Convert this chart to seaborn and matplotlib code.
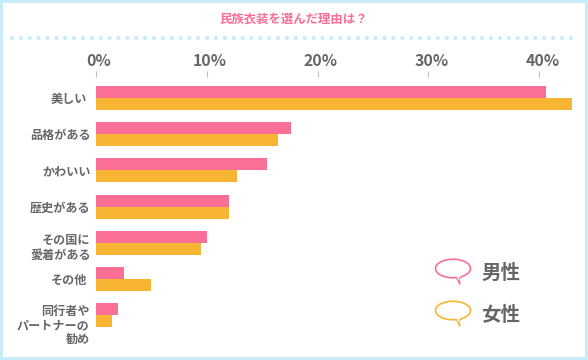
import matplotlib
matplotlib.use("Agg")
import matplotlib.pyplot as plt
from matplotlib.patches import Ellipse, Polygon, Rectangle
from matplotlib.transforms import ScaledTranslation
import pandas as pd
import seaborn as sns

categories = ["美しい", "品格がある", "かわいい", "歴史がある", "その国に\n愛着がある", "その他", "同行者や\nパートナーの\n勧め"]
male = [40.6, 17.6, 15.4, 12.0, 10.0, 2.5, 2.0]
female = [43.0, 16.4, 12.7, 12.0, 9.5, 5.0, 1.4]
series_names = ["男性", "女性"]
tick_values = [0, 10, 20, 30, 40]
tick_labels = ["0%", "10%", "20%", "30%", "40%"]
title = "民族衣装を選んだ理由は？"

PINK = "#F96F96"
ORANGE = "#F8B433"
BLUE = "#C8ECFA"
TEXT = "#666666"
W, H = 588, 360
DPI = 100

sns.set_theme(style="white")
plt.rcParams["font.family"] = ["Noto Sans CJK JP", "DejaVu Sans"]

df = pd.DataFrame({
    "category": categories * 2,
    "value": male + female,
    "series": [series_names[0]] * len(categories) + [series_names[1]] * len(categories),
})

fig = plt.figure(figsize=(W / DPI, H / DPI), dpi=DPI, facecolor="white")

# Overlay in pixel coordinates for frame, divider and legend bubbles
bg = fig.add_axes([0, 0, 1, 1], zorder=0)
bg.set_xlim(0, W)
bg.set_ylim(H, 0)
bg.axis("off")
for r in [(0, 0, W, 3), (0, H - 3, W, 3), (0, 0, 3, H), (W - 3, 0, 3, H)]:
    bg.add_patch(Rectangle((r[0], r[1]), r[2], r[3], fc=BLUE, ec="none"))
for i in range(64):
    bg.add_patch(Ellipse((12 + i * 8.87, 38), 4.2, 4.2, fc=BLUE, ec="none"))

ax = fig.add_axes([96 / W, 1 - 333.3 / H, (580 - 96) / W, (333.3 - 77) / H], zorder=1)
ax.patch.set_alpha(0)
sns.barplot(data=df, y="category", x="value", hue="series", order=categories,
            hue_order=series_names, palette=[PINK, ORANGE], orient="h",
            width=0.66, gap=0, dodge=True, legend=False, ax=ax, errorbar=None,
            saturation=1, linewidth=0)
ax.set_xlim(0, (580 - 96) / 11.08)
ax.set_ylim(6.5, -0.58)
ax.set_xlabel("")
ax.set_ylabel("")
sns.despine(ax=ax, left=True, bottom=True, top=True, right=True)
ax.xaxis.tick_top()
ax.set_xticks(tick_values)
ax.set_xticklabels(tick_labels, fontsize=11.4, fontweight="bold", color=TEXT)
ax.tick_params(axis="x", length=4, width=0.8, color="#BBBBBB", pad=1.5, top=True, bottom=False)
ax.tick_params(axis="y", length=0, pad=6)


def shift(label, dx, dy):
    label.set_transform(label.get_transform() + ScaledTranslation(dx / DPI, -dy / DPI, fig.dpi_scale_trans))


for lab in ax.get_xticklabels():
    shift(lab, 3, 0)

label_dx = [-1, 3, 3, 3, 3, 0, 2]
label_dy = [0, 0, 0, 0, 2.5, 0, 8]
for lab, dx, dy in zip(ax.get_yticklabels(), label_dx, label_dy):
    lab.set_fontsize(8.7)
    lab.set_fontweight("bold")
    lab.set_color(TEXT)
    lab.set_linespacing(1.15)
    lab.set_multialignment("right")
    shift(lab, dx, dy)

fig.text(294 / W, 1 - 19 / H, title, ha="center", va="center", fontsize=8.9,
         fontweight="bold", color=PINK)


def bubble(cy, color):
    bg.add_patch(Polygon([(455, cy + 6), (460, cy + 16), (459, cy + 10), (462, cy + 8)],
                         closed=True, fc="white", ec=color, lw=1.0, zorder=3))
    bg.add_patch(Ellipse((453, cy), 35, 18.5, fc="white", ec=color, lw=1.2, zorder=4))
    bg.add_patch(Polygon([(456, cy + 7), (459.5, cy + 13), (459, cy + 9), (462, cy + 7)],
                         closed=True, fc="white", ec="none", zorder=5))


bubble(268.5, PINK)
bubble(310.5, ORANGE)
for name, cy in zip(series_names, [273, 315]):
    bg.text(500.5, cy, name, ha="center", va="center", fontsize=14,
            fontweight="bold", color=TEXT)

fig.savefig("out.png", dpi=DPI)
